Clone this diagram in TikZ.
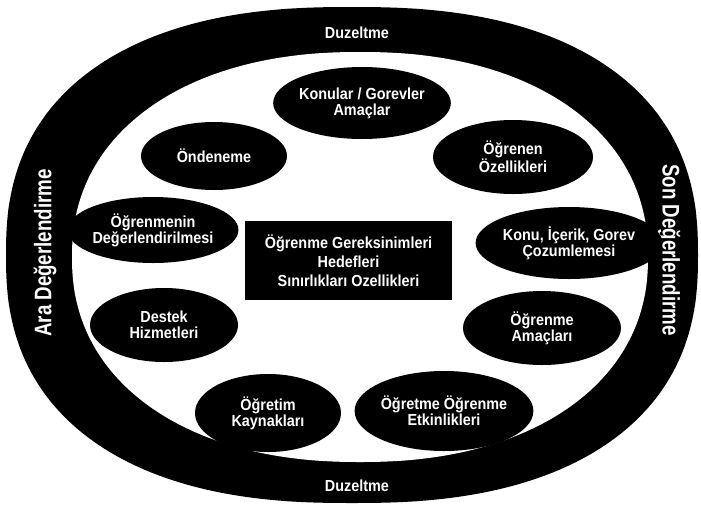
\documentclass[tikz,border=0pt]{standalone}
\usepackage{fontspec}
\setmainfont{Liberation Sans}
\newfontfamily\lblfont[FakeStretch=0.9]{Liberation Sans}
\newfontfamily\sidefont[FakeStretch=0.78]{Liberation Sans}
\usetikzlibrary{shapes.geometric}
% superellipse outline: centre (#1,#2), half axes #3 and #4, exponent #5
\newcommand{\superoval}[5]{plot[domain=0:360,samples=241,smooth]
  ({#1+#3*sign(cos(\x))*pow(abs(cos(\x))+0.00001,2/#5)},
   {#2+#4*sign(sin(\x))*pow(abs(sin(\x))+0.00001,2/#5)}) -- cycle}
\begin{document}
\begin{tikzpicture}[x=1pt,y=-1pt,
  blob/.style={ellipse,fill=black,text=white,inner sep=0pt,align=center,
    font=\lblfont\bfseries\fontsize{16}{16}\selectfont},
  ringtext/.style={text=white,inner sep=0pt,font=\lblfont\bfseries\fontsize{16}{16}\selectfont},
  sidetext/.style={text=white,inner sep=0pt,font=\sidefont\bfseries\fontsize{24}{24}\selectfont},
  corebox/.style={rectangle,fill=black,text=white,inner sep=0pt,align=center,
    minimum width=207pt,minimum height=79pt,
    font=\lblfont\bfseries\fontsize{16}{19}\selectfont}]
\useasboundingbox (0,0) rectangle (701,504);
\fill[white] (0,0) rectangle (701,504);
% outer black ring
\fill[black] \superoval{352}{255}{346}{248}{2.4};
\fill[white] \superoval{360}{257}{288}{205}{2.2};
% ring labels
\node[ringtext] (dtop) at (357,33) {Duzeltme};
\node[ringtext] (dbot) at (357,486) {Duzeltme};
\node[sidetext,rotate=90] (ara) at (45,253) {Ara Değerlendirme};
\node[sidetext,rotate=-90] (son) at (669,250) {Son Değerlendirme};
% centre box
\node[corebox] (core) at (348.5,260.5) {Öğrenme Gereksinimleri\\Hedefleri\\Sınırlıkları Ozellikleri};
% surrounding ellipses
\node[blob,minimum width=150pt,minimum height=72pt] (konular) at (362,103) {Konular / Gorevler\\Amaçlar};
\node[blob,minimum width=146pt,minimum height=68pt] (onden) at (214,156) {Öndeneme};
\node[blob,minimum width=160pt,minimum height=74pt] (ogrenen) at (513,157) {Öğrenen\\Özellikleri};
\node[blob,minimum width=142pt,minimum height=66pt] (degerl) at (153,230) {Öğrenmenin\\Değerlendirilmesi};
\node[blob,minimum width=154pt,minimum height=72pt] (konu) at (569,243) {Konu, İçerik, Gorev\\Çozumlemesi};
\node[blob,minimum width=148pt,minimum height=74pt] (destek) at (164,325) {Destek\\Hizmetleri};
\node[blob,minimum width=158pt,minimum height=74pt] (amac) at (542,328) {Öğrenme\\Amaçları};
\node[blob,minimum width=146pt,minimum height=78pt] (kaynak) at (268,413) {Öğretim\\Kaynakları};
\node[blob,minimum width=154pt,minimum height=80pt] (etkin) at (444,411) {Öğretme Öğrenme\\Etkinlikleri};
\end{tikzpicture}
\end{document}
